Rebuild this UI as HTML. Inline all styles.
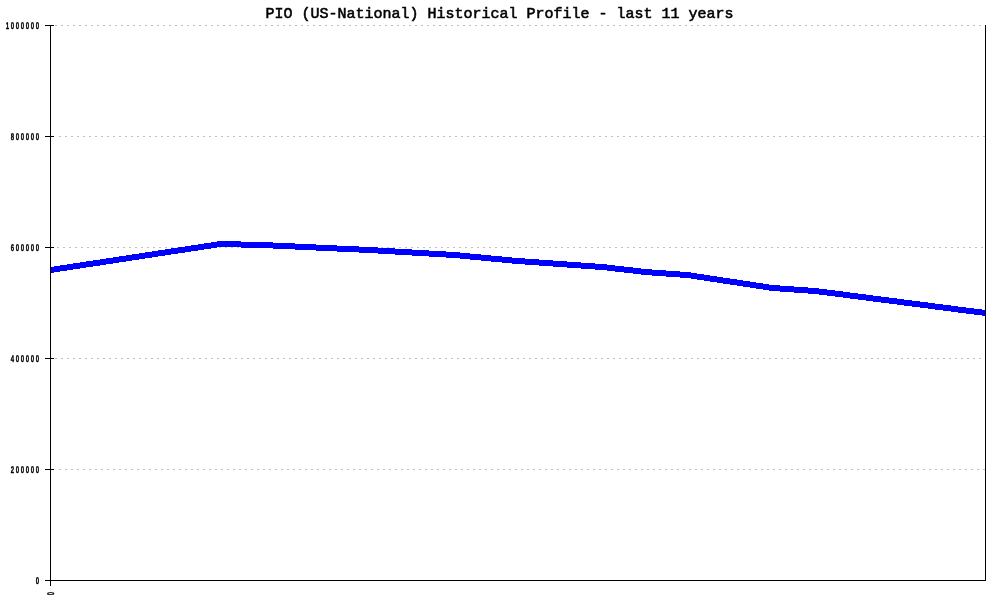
<!DOCTYPE html>
<html lang="en">
<head>
<meta charset="utf-8">
<title>PIO (US-National) Historical Profile - last 11 years</title>
<style>
html,body{margin:0;padding:0;background:#fff;}
body{width:1000px;height:600px;overflow:hidden;}
svg{display:block;}
.title{font-family:"Liberation Mono","DejaVu Sans Mono",monospace;font-weight:normal;font-size:15px;fill:#000;stroke:#000;stroke-width:0.55px;}
.yl{font-family:"Liberation Sans","DejaVu Sans",sans-serif;font-weight:bold;font-size:9.7px;text-rendering:geometricPrecision;fill:#000;stroke:#000;stroke-width:0.35px;}
</style>
</head>
<body>
<svg width="1000" height="600" viewBox="0 0 1000 600">
<rect x="0" y="0" width="1000" height="600" fill="#ffffff"/>
<g shape-rendering="crispEdges" stroke="#c0c0c0" stroke-width="1" stroke-dasharray="2 4" fill="none">
<line x1="55" y1="25.5" x2="985" y2="25.5"/>
<line x1="59" y1="136.5" x2="985" y2="136.5"/>
<line x1="57" y1="247.5" x2="985" y2="247.5"/>
<line x1="55" y1="358.5" x2="985" y2="358.5"/>
<line x1="59" y1="469.5" x2="985" y2="469.5"/>
</g>
<path d="M51 267 L54 267 L54 266 L60 266 L60 265 L67 265 L67 264 L73 264 L73 263 L80 263 L80 262 L86 262 L86 261 L93 261 L93 260 L100 260 L100 259 L106 259 L106 258 L113 258 L113 257 L119 257 L119 256 L126 256 L126 255 L132 255 L132 254 L139 254 L139 253 L145 253 L145 252 L152 252 L152 251 L158 251 L158 250 L165 250 L165 249 L171 249 L171 248 L178 248 L178 247 L185 247 L185 246 L191 246 L191 245 L198 245 L198 244 L204 244 L204 243 L211 243 L211 242 L217 242 L217 241 L241 241 L241 242 L273 242 L273 243 L295 243 L295 244 L316 244 L316 245 L337 245 L337 246 L359 246 L359 247 L378 247 L378 248 L395 248 L395 249 L412 249 L412 250 L429 250 L429 251 L446 251 L446 252 L460 252 L460 253 L470 253 L470 254 L481 254 L481 255 L491 255 L491 256 L502 256 L502 257 L512 257 L512 258 L525 258 L525 259 L539 259 L539 260 L553 260 L553 261 L567 261 L567 262 L581 262 L581 263 L595 263 L595 264 L607 264 L607 265 L615 265 L615 266 L624 266 L624 267 L633 267 L633 268 L641 268 L641 269 L652 269 L652 270 L666 270 L666 271 L680 271 L680 272 L691 272 L691 273 L697 273 L697 274 L704 274 L704 275 L710 275 L710 276 L717 276 L717 277 L723 277 L723 278 L730 278 L730 279 L737 279 L737 280 L743 280 L743 281 L750 281 L750 282 L756 282 L756 283 L763 283 L763 284 L769 284 L769 285 L780 285 L780 286 L794 286 L794 287 L808 287 L808 288 L819 288 L819 289 L827 289 L827 290 L835 290 L835 291 L843 291 L843 292 L850 292 L850 293 L858 293 L858 294 L866 294 L866 295 L873 295 L873 296 L881 296 L881 297 L889 297 L889 298 L897 298 L897 299 L904 299 L904 300 L912 300 L912 301 L920 301 L920 302 L928 302 L928 303 L935 303 L935 304 L943 304 L943 305 L951 305 L951 306 L958 306 L958 307 L966 307 L966 308 L974 308 L974 309 L982 309 L982 310 L986 310 L986 316 L982 316 L982 315 L974 315 L974 314 L966 314 L966 313 L958 313 L958 312 L951 312 L951 311 L943 311 L943 310 L935 310 L935 309 L928 309 L928 308 L920 308 L920 307 L912 307 L912 306 L904 306 L904 305 L897 305 L897 304 L889 304 L889 303 L881 303 L881 302 L873 302 L873 301 L866 301 L866 300 L858 300 L858 299 L850 299 L850 298 L843 298 L843 297 L835 297 L835 296 L827 296 L827 295 L819 295 L819 294 L808 294 L808 293 L794 293 L794 292 L780 292 L780 291 L769 291 L769 290 L763 290 L763 289 L756 289 L756 288 L750 288 L750 287 L743 287 L743 286 L737 286 L737 285 L730 285 L730 284 L723 284 L723 283 L717 283 L717 282 L710 282 L710 281 L704 281 L704 280 L697 280 L697 279 L691 279 L691 278 L680 278 L680 277 L666 277 L666 276 L652 276 L652 275 L641 275 L641 274 L633 274 L633 273 L624 273 L624 272 L615 272 L615 271 L607 271 L607 270 L595 270 L595 269 L581 269 L581 268 L567 268 L567 267 L553 267 L553 266 L539 266 L539 265 L525 265 L525 264 L512 264 L512 263 L502 263 L502 262 L491 262 L491 261 L481 261 L481 260 L470 260 L470 259 L460 259 L460 258 L446 258 L446 257 L429 257 L429 256 L412 256 L412 255 L395 255 L395 254 L378 254 L378 253 L359 253 L359 252 L337 252 L337 251 L316 251 L316 250 L295 250 L295 249 L273 249 L273 248 L241 248 L241 247 L217 247 L217 248 L211 248 L211 249 L204 249 L204 250 L198 250 L198 251 L191 251 L191 252 L185 252 L185 253 L178 253 L178 254 L171 254 L171 255 L165 255 L165 256 L158 256 L158 257 L152 257 L152 258 L145 258 L145 259 L139 259 L139 260 L132 260 L132 261 L126 261 L126 262 L119 262 L119 263 L113 263 L113 264 L106 264 L106 265 L100 265 L100 266 L93 266 L93 267 L86 267 L86 268 L80 268 L80 269 L73 269 L73 270 L67 270 L67 271 L60 271 L60 272 L54 272 L54 273 L51 273Z" fill="#0000ff" shape-rendering="crispEdges"/>
<g shape-rendering="crispEdges" fill="#000000">
<rect x="50" y="25" width="1" height="561"/>
<rect x="985" y="25" width="1" height="556"/>
<rect x="45" y="580" width="941" height="1"/>
<rect x="45" y="25" width="9" height="1"/>
<rect x="45" y="136" width="9" height="1"/>
<rect x="45" y="247" width="9" height="1"/>
<rect x="45" y="358" width="9" height="1"/>
<rect x="45" y="469" width="9" height="1"/>
</g>
<text class="yl" x="9.27 17.34 25.40 33.47 41.53 49.60 57.66" y="0" transform="translate(0 29.0) scale(0.62 1)">1000000</text>
<text class="yl" x="17.34 25.40 33.47 41.53 49.60 57.66" y="0" transform="translate(0 140.0) scale(0.62 1)">800000</text>
<text class="yl" x="17.34 25.40 33.47 41.53 49.60 57.66" y="0" transform="translate(0 251.0) scale(0.62 1)">600000</text>
<text class="yl" x="17.34 25.40 33.47 41.53 49.60 57.66" y="0" transform="translate(0 362.0) scale(0.62 1)">400000</text>
<text class="yl" x="17.34 25.40 33.47 41.53 49.60 57.66" y="0" transform="translate(0 473.0) scale(0.62 1)">200000</text>
<text class="yl" x="57.66" y="0" transform="translate(0 584.0) scale(0.62 1)">0</text>
<text class="yl" text-anchor="end" transform="translate(53.5 591.8) rotate(-90) scale(0.62 1)">0</text>
<text class="title" x="265.5" y="18" xml:space="preserve">PIO (US-National) Historical Profile - last 11 years</text>
</svg>
</body>
</html>
